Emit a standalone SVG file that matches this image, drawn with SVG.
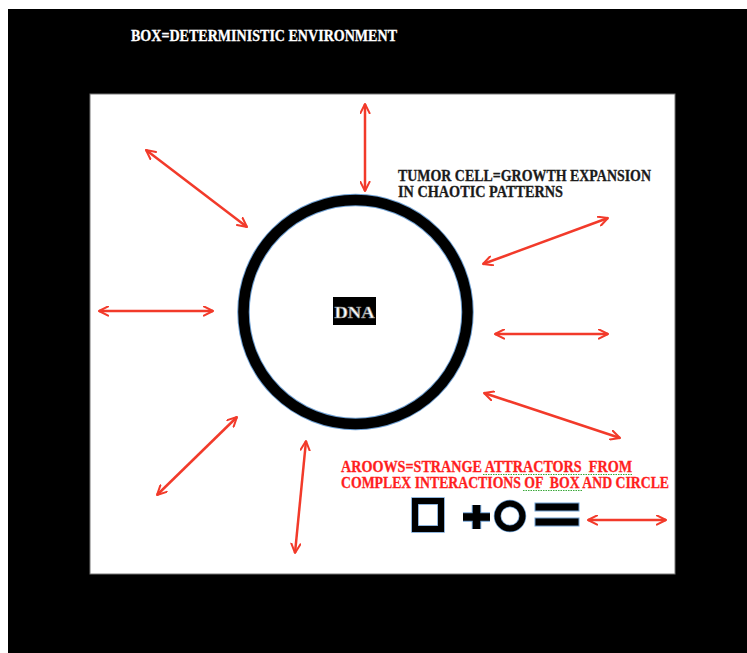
<svg xmlns="http://www.w3.org/2000/svg" width="747" height="653" viewBox="0 0 747 653">
<style>
.arrow{stroke:#f23a2a;stroke-width:2.5;fill:none;marker-start:url(#ah);marker-end:url(#ah);}
.lbl{font-family:"Liberation Serif","DejaVu Serif",serif;font-weight:bold;}
.sym{fill:none;stroke:#000;}
.glow{fill:none;stroke:#6e9fd2;}
.squig{fill:none;stroke:#3aa83a;stroke-width:1;stroke-dasharray:1.5 1;}
</style>
<defs>
<marker id="ah" viewBox="0 0 12 12" refX="11" refY="6" markerWidth="4.4" markerHeight="4.4" orient="auto-start-reverse" markerUnits="strokeWidth">
<path d="M1,1 L11,6 L1,11" fill="none" stroke="#f23a2a" stroke-width="2.2" stroke-linecap="round" stroke-linejoin="round"/>
</marker>
</defs>
<rect x="0" y="0" width="747" height="653" fill="#ffffff"/>
<rect x="8" y="9" width="739" height="644" fill="#000000"/>
<rect id="box" x="90" y="94" width="585" height="480" fill="#ffffff" stroke="#777" stroke-width="1"/>
<text class="lbl" x="131" y="41" font-size="16.5" fill="#ffffff" stroke="#ffffff" stroke-width="0.3" textLength="266" lengthAdjust="spacingAndGlyphs">BOX=DETERMINISTIC ENVIRONMENT</text>

<g id="cell">
<circle cx="355.5" cy="312" r="112" class="glow" stroke-width="12.5"/>
<circle cx="355.5" cy="312" r="112" class="sym" stroke-width="10.5"/>
</g>
<g id="dna">
<rect x="333" y="297" width="43" height="28" fill="#000"/>
<text class="lbl" x="354.5" y="318" font-size="17" text-anchor="middle" fill="#ffffff" stroke="#888" stroke-width="0.6" textLength="40" lengthAdjust="spacingAndGlyphs">DNA</text>
</g>

<g id="tumor-label">
<text class="lbl" x="398" y="181" font-size="16" fill="#1a1a1a" stroke="#1a1a1a" stroke-width="0.3" textLength="253" lengthAdjust="spacingAndGlyphs">TUMOR CELL=GROWTH EXPANSION</text>
<text class="lbl" x="398" y="197" font-size="16" fill="#1a1a1a" stroke="#1a1a1a" stroke-width="0.3" textLength="165" lengthAdjust="spacingAndGlyphs">IN CHAOTIC PATTERNS</text>
</g>

<g id="arrows-label">
<text class="lbl" x="341" y="472" font-size="16" fill="#ff1e1e" stroke="#ff1e1e" stroke-width="0.3" textLength="291" lengthAdjust="spacingAndGlyphs" xml:space="preserve">AROOWS=STRANGE ATTRACTORS  FROM</text>
<text class="lbl" x="341" y="488" font-size="16" fill="#ff1e1e" stroke="#ff1e1e" stroke-width="0.3" textLength="328" lengthAdjust="spacingAndGlyphs" xml:space="preserve">COMPLEX INTERACTIONS OF  BOX AND CIRCLE</text>
<path class="squig" d="M483,474.5 L632,474.5"/>
<path class="squig" d="M523,490.5 L582,490.5"/>
</g>

<g id="equation">
<rect x="415" y="501" width="26" height="28" class="glow" stroke-width="7.5"/>
<rect x="415" y="501" width="26" height="28" class="sym" stroke-width="6"/>
<path d="M463,517 H490 M476.5,505 V529" class="glow" stroke-width="9.5"/>
<path d="M463,517 H490 M476.5,505 V529" class="sym" stroke-width="7.5"/>
<circle cx="510" cy="516" r="12.5" class="glow" stroke-width="7.5"/>
<circle cx="510" cy="516" r="12.5" class="sym" stroke-width="6"/>
<rect x="535" y="503" width="44" height="8" fill="#000" stroke="#6e9fd2" stroke-width="1"/>
<rect x="535" y="518" width="44" height="8" fill="#000" stroke="#6e9fd2" stroke-width="1"/>
</g>

<g id="connectors">
<line class="arrow" x1="365" y1="104" x2="365" y2="191"/>
<line class="arrow" x1="146" y1="150" x2="247" y2="227"/>
<line class="arrow" x1="99" y1="311" x2="213" y2="311"/>
<line class="arrow" x1="157" y1="495" x2="237" y2="417"/>
<line class="arrow" x1="306" y1="441" x2="295" y2="553"/>
<line class="arrow" x1="483" y1="264" x2="608" y2="218"/>
<line class="arrow" x1="495" y1="334" x2="608" y2="334"/>
<line class="arrow" x1="484" y1="393" x2="620" y2="438"/>
<line class="arrow" x1="588" y1="520" x2="666" y2="520"/>
</g>
</svg>
